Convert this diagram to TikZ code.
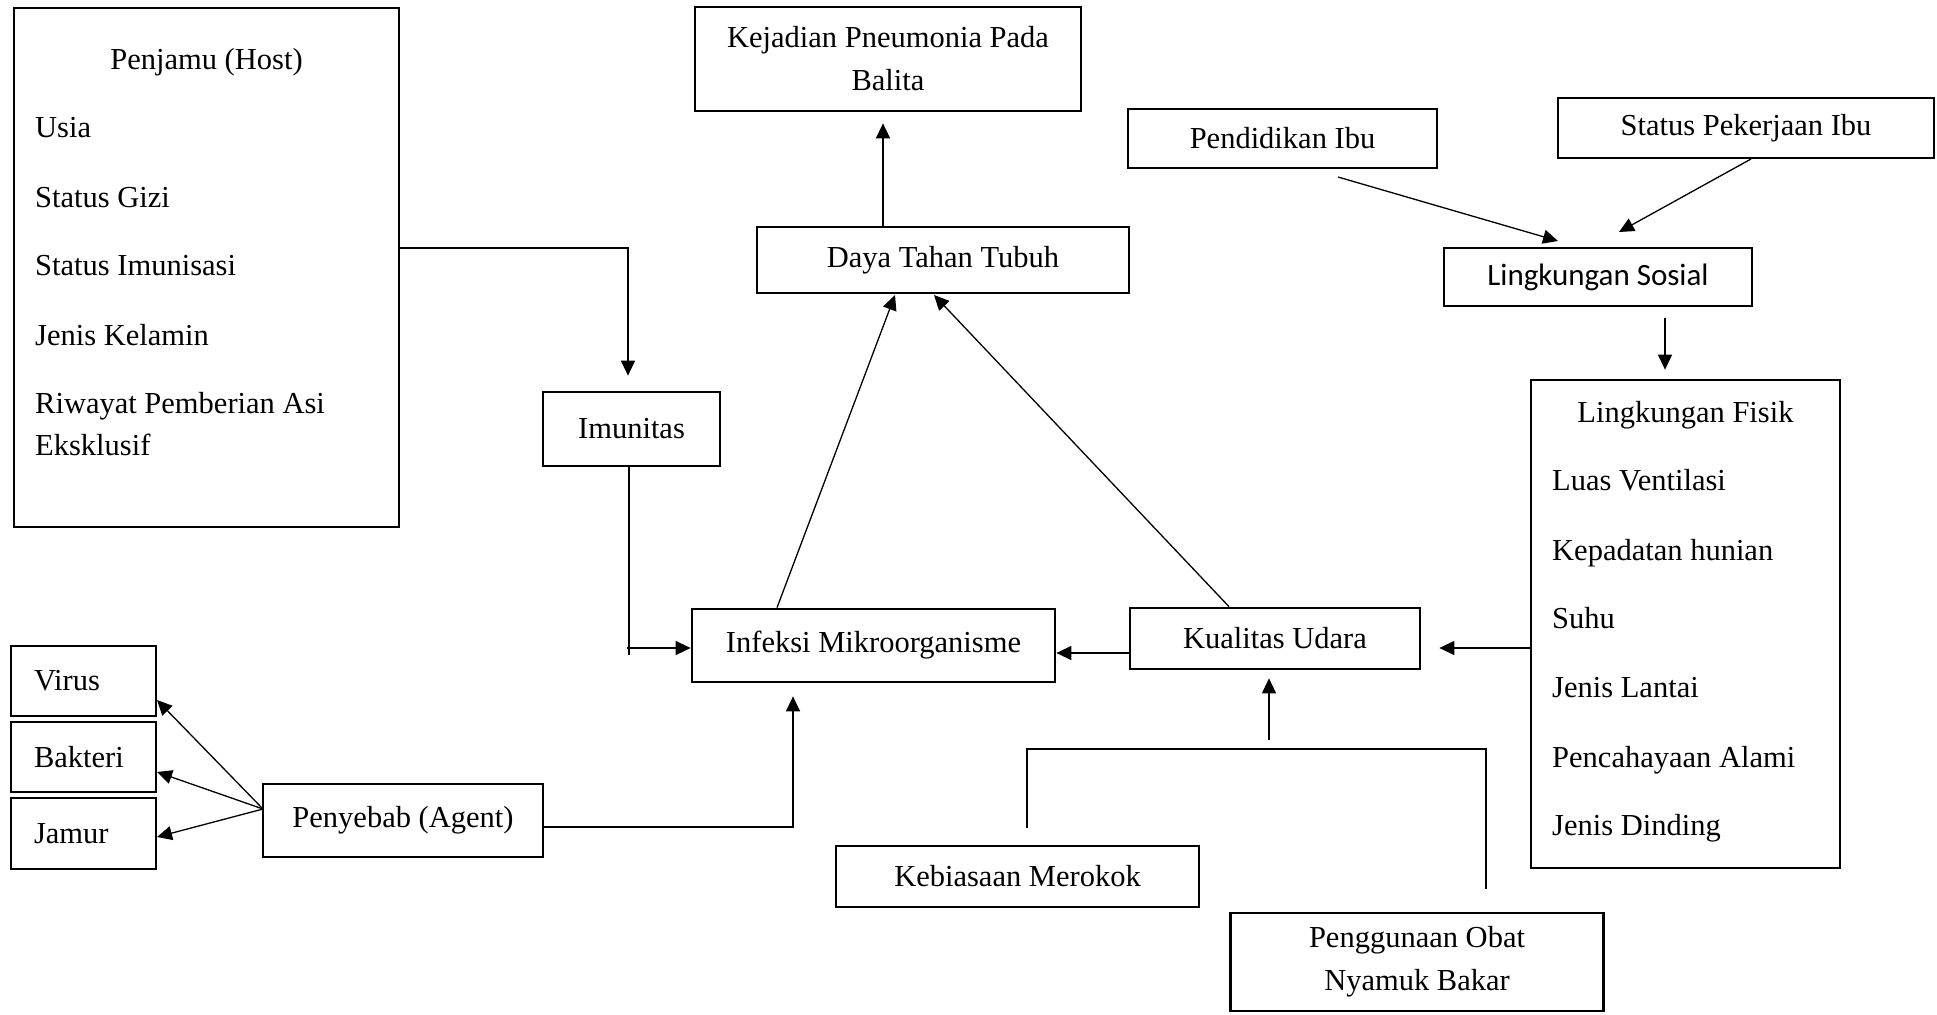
\documentclass[tikz,border=0pt]{standalone}
\usepackage{fontspec}
\setmainfont{Liberation Serif}
\newfontfamily\calibfont{Carlito}
\usetikzlibrary{arrows.meta,calc}
\begin{document}
\begin{tikzpicture}[x=1pt,y=-1pt,
  font=\fontsize{30.5pt}{43pt}\selectfont,
  box/.style={draw, line width=2.7pt, rectangle, inner sep=0pt, align=center},
  lbox/.style={box, align=left},
  conn/.style={line width=1.3pt},
  arr/.style={conn, -{Triangle[length=15pt,width=14pt]}},
  item/.style={anchor=base west, inner sep=0pt},
  title/.style={anchor=base, inner sep=0pt}]
\useasboundingbox (0,0) rectangle (1937,1014);

% ---- boxes ----
\node[box, minimum width=385pt, minimum height=519pt] (host) at (206.5,267.5) {};
\node[title] (hostT) at (206.5,70) {Penjamu (Host)};
\node[item] (hUsia) at (35,137) {Usia};
\node[item] (hGizi) at (35,207) {Status Gizi};
\node[item] (hImun) at (35,275) {Status Imunisasi};
\node[item] (hKel) at (35,345) {Jenis Kelamin};
\node[item] (hAsi) at (35,413) {Riwayat Pemberian Asi};
\node[item] (hEks) at (35,455) {Eksklusif};

\node[box, minimum width=386pt, minimum height=104pt] (kej) at (888,59) {Kejadian Pneumonia Pada\\Balita};
\node[box, minimum width=372pt, minimum height=66pt] (daya) at (943,260) {Daya Tahan Tubuh};
\node[box, minimum width=177pt, minimum height=74pt] (imun) at (631.5,429) {Imunitas};
\node[box, minimum width=363pt, minimum height=73pt] (inf) at (873.5,645.5) {Infeksi Mikroorganisme};
\node[box, minimum width=290pt, minimum height=61pt] (kual) at (1275,638.5) {Kualitas Udara};

\node[box, minimum width=309pt, minimum height=488pt] (fisik) at (1685.5,624) {};
\node[title] (fisikT) at (1685.5,422) {Lingkungan Fisik};
\node[item] (f1) at (1552,490) {Luas Ventilasi};
\node[item] (f2) at (1552,560) {Kepadatan hunian};
\node[item] (f3) at (1552,628) {Suhu};
\node[item] (f4) at (1552,697) {Jenis Lantai};
\node[item] (f5) at (1552,767) {Pencahayaan Alami};
\node[item] (f6) at (1552,835) {Jenis Dinding};

\node[box, minimum width=308pt, minimum height=58pt, font=\calibfont\fontsize{31pt}{38pt}\selectfont] (ls) at (1598,277) {Lingkungan Sosial};
\node[box, minimum width=309pt, minimum height=59pt] (pend) at (1282.5,138.5) {Pendidikan Ibu};
\node[box, minimum width=376pt, minimum height=60pt] (stat) at (1746,128) {Status Pekerjaan Ibu};
\node[box, minimum width=363pt, minimum height=61pt] (kebi) at (1017.5,876.5) {Kebiasaan Merokok};
\node[box, minimum width=373pt, minimum height=98pt] (peng) at (1417,962) {Penggunaan Obat\\Nyamuk Bakar};

\node[lbox, minimum width=145pt, minimum height=70pt, text width=99pt] (virus) at (83.5,681) {Virus};
\node[lbox, minimum width=145pt, minimum height=70pt, text width=99pt] (bakt) at (83.5,757) {Bakteri};
\node[lbox, minimum width=145pt, minimum height=71pt, text width=99pt] (jamur) at (83.5,833.5) {Jamur};
\node[box, minimum width=280pt, minimum height=73pt] (peny) at (403,820.5) {Penyebab (Agent)};

% ---- helper coordinates ----
\coordinate (hc) at (628,248);
\coordinate (ic) at (629,655);
\coordinate (ih) at (627,648);
\coordinate (dc) at (883,0);
\coordinate (ia) at (777,0);
\coordinate (ib) at (895,295);
\coordinate (ka) at (1229,0);
\coordinate (kb) at (934,295);
\coordinate (ki) at (0,653);
\coordinate (fk) at (0,648);
\coordinate (b1) at (1027,749);
\coordinate (b2) at (1486,749);
\coordinate (b3) at (1269,740);
\coordinate (lf) at (1665,0);
\coordinate (pa) at (1338,177);
\coordinate (pb) at (1558,241);
\coordinate (sa) at (1751,159);
\coordinate (sb) at (1619,232);
\coordinate (g0) at (263,809);
\coordinate (gv) at (157,700);
\coordinate (gb) at (157,772);
\coordinate (gj) at (157,837);
\coordinate (pc) at (793,827);

% ---- connectors ----
\draw[arr, shorten >=15pt] (host.east |- hc) -- (hc) -- (imun.north -| hc);
\draw[conn] (imun.south -| ic) -- (ic);
\draw[arr] (ih) -- (inf.west |- ih);
\draw[arr, shorten >=11pt] (daya.north -| dc) -- (kej.south -| dc);
\draw[arr] (inf.north -| ia) -- (ib);
\draw[arr] (kual.north -| ka) -- (kb);
\draw[arr] (kual.west |- ki) -- (inf.east |- ki);
\draw[arr, shorten >=18pt] (fisik.west |- fk) -- (kual.east |- fk);
\draw[conn, shorten <=17pt, shorten >=23pt] (kebi.north -| b1) -- (b1) -- (b2) -- (peng.north -| b2);
\draw[arr, shorten >=8pt] (b3) -- (kual.south -| b3);
\draw[arr, shorten <=11pt, shorten >=9pt] (ls.south -| lf) -- (fisik.north -| lf);
\draw[arr] (pa) -- (pb);
\draw[arr] (sa) -- (sb);
\draw[arr] (g0) -- (gv);
\draw[arr] (g0) -- (gb);
\draw[arr] (g0) -- (gj);
\draw[arr, shorten >=13pt] (peny.east |- pc) -- (pc) -- (inf.south -| pc);
\end{tikzpicture}
\end{document}
